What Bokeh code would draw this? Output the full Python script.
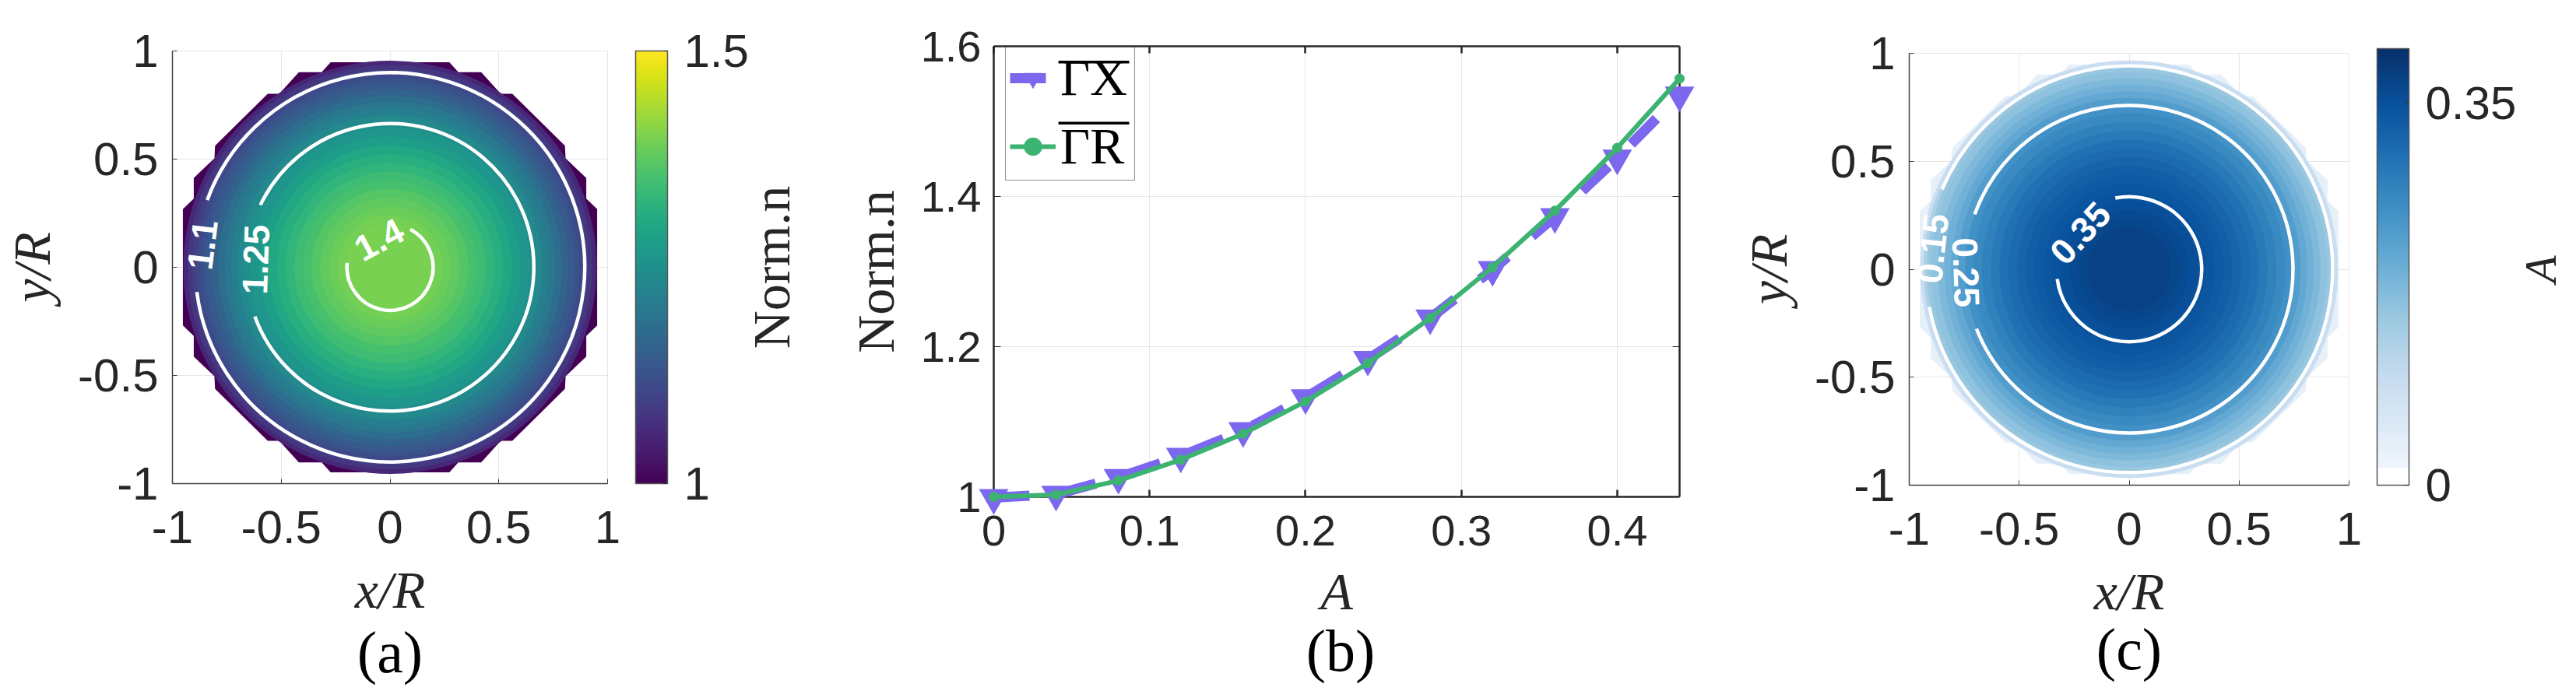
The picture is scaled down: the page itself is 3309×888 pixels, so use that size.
import numpy as np
from bokeh.core.properties import value
from bokeh.embed import file_html
from bokeh.layouts import column, row
from bokeh.models import (ColorBar, ColumnDataSource, FixedTicker, Label, Legend,
                          LegendItem, LinearAxis, LinearColorMapper)
from bokeh.palettes import Blues256, Viridis256
from bokeh.plotting import figure
from bokeh.resources import INLINE

# outline of the mesh, same in (a) and (c)
MESH_X = [-.273, .273, .314, .419, .509, .562, .804, .807, .902, .902, .952,
          .952, .902, .902, .807, .804, .562, .509, .419, .314, .273,
          -.273, -.314, -.419, -.509, -.562, -.804, -.807, -.902, -.902, -.952,
          -.952, -.902, -.902, -.807, -.804, -.562, -.509, -.419, -.314]
MESH_Y = [.948, .948, .902, .902, .802, .802, .562, .504, .413, .317, .269,
          -.269, -.317, -.413, -.504, -.562, -.802, -.802, -.902, -.902, -.948,
          -.948, -.902, -.902, -.802, -.802, -.562, -.504, -.413, -.317, -.269,
          .269, .317, .413, .504, .562, .802, .802, .902, .902]

# (a) bands
N_RADIUS = [.95, .93, .91, .89, .87, .85, .82, .79, .76, .73, .70, .67, .64, .60, .56, .52, .48, .44, .40, .36, .32, .28, .24, .20]
N_VALUE = [1.055, 1.08, 1.095, 1.11, 1.125, 1.14, 1.16, 1.18, 1.20, 1.215, 1.235, 1.25, 1.262, 1.28, 1.30, 1.315, 1.33, 1.345, 1.355, 1.368, 1.378, 1.388, 1.395, 1.40]
N_RIM = 1.0
N_LEVEL_R = [.895, .661, .198]
N_GAP_END = [187.3, 200.0, 174.0]    # arc starts here
N_GAP_START = [159.8, 154.3, 62.0]   # and runs round to here
N_LABELS = ["1.1", "1.25", "1.4"]
N_LABEL_X = [-.862, -.617, -.05]
N_LABEL_Y = [.104, .036, .128]
N_LABEL_ROT = [83, 88, 28]

# (b)
A_VALUES = [0, .04, .08, .12, .16, .20, .24, .28, .32, .36, .40, .44]
GAMMA_X = [.999, 1.0034, 1.0258, 1.054, 1.088, 1.132, 1.183, 1.238, 1.3025, 1.373, 1.451, 1.535]
GAMMA_R = [1.0, 1.0028, 1.0217, 1.0494, 1.084, 1.127, 1.178, 1.238, 1.3057, 1.381, 1.4647, 1.557]

# (c) bands
A_RADIUS = [.95, .935, .92, .90, .87, .84, .81, .78, .745, .71, .67, .63, .59, .55, .51, .47, .43, .39, .35, .31, .27, .23, .19]
A_FIELD = [.09, .13, .155, .165, .18, .195, .21, .23, .25, .262, .275, .288, .30, .31, .32, .328, .335, .342, .348, .354, .36, .366, .372]
A_RIM = .035
A_LEVEL_R = [.925, .745, .33]
A_GAP_END = [190.7, 201.3, 187.7]
A_GAP_START = [156.9, 160.4, 101.0]
A_LABELS = ["0.15", "0.25", "0.35"]
A_LABEL_X = [-.894, -.742, -.222]
A_LABEL_Y = [.096, -.015, .167]
A_LABEL_ROT = [84, -88, 47]

XY_TICKS = [-1, -.5, 0, .5, 1]
XY_TICK_LABELS = ["-1", "-0.5", "0", "0.5", "1"]
B_X_TICKS = [0, .1, .2, .3, .4]
B_X_LABELS = ["0", "0.1", "0.2", "0.3", "0.4"]
B_Y_TICKS = [1, 1.2, 1.4, 1.6]
B_Y_LABELS = ["1", "1.2", "1.4", "1.6"]

SANS = "Liberation Sans"
SERIF = "Liberation Serif"
DARK = "#262626"
BLUES = ["#ffffff"] * 10 + list(Blues256[::-1])[10:]
FIG_H = 884


def style_axes(p, size):
    for ax in p.axis:
        ax.major_label_text_font = SANS
        ax.major_label_text_font_size = size
        ax.major_label_text_color = DARK
        ax.axis_label_text_font = SERIF
        ax.axis_label_text_font_style = "italic"
        ax.axis_label_text_font_size = "68px"
        ax.axis_label_text_color = DARK
        ax.minor_tick_line_color = None
        ax.major_tick_in = 6
        ax.major_tick_out = 0
    p.grid.grid_line_color = "#e6e6e6"
    p.grid.grid_line_width = 1
    p.background_fill_color = "white"


def field_panel(width, left, frame_w, frame_h, top, mapper, rim, radius, field, level_r, gap_end, gap_start,
                labels, lab_x, lab_y, lab_rot, cb_ticks, cb_labels, caption, caption_y):
    p = figure(width=width, height=FIG_H, x_range=(-1, 1), y_range=(-1, 1), output_backend="svg", toolbar_location=None,
               min_border_left=left, min_border_top=top, min_border_right=width - left - frame_w,
               min_border_bottom=FIG_H - top - frame_h)
    p.xaxis.ticker = FixedTicker(ticks=XY_TICKS)
    p.yaxis.ticker = FixedTicker(ticks=XY_TICKS)
    p.xaxis.major_label_overrides = dict(zip(XY_TICKS, XY_TICK_LABELS))
    p.yaxis.major_label_overrides = dict(zip(XY_TICKS, XY_TICK_LABELS))
    p.xaxis.axis_label = "x/R"
    p.yaxis.axis_label = "y/R"
    style_axes(p, "60px")
    p.xaxis.major_label_standoff = 35
    p.yaxis.major_label_standoff = 18
    p.xaxis.axis_label_standoff = 19
    p.yaxis.axis_label_standoff = 18
    p.axis.axis_line_color = "#404040"
    p.axis.axis_line_width = 1.5
    p.axis.major_tick_line_color = "#404040"
    p.outline_line_color = "#e6e6e6"

    rim_src = ColumnDataSource(dict(x=[MESH_X], y=[MESH_Y], v=[rim]))
    p.patches("x", "y", source=rim_src, fill_color={"field": "v", "transform": mapper}, line_color=None)
    src = ColumnDataSource(dict(x=[0] * len(radius), y=[0] * len(radius), r=radius, v=field))
    p.circle("x", "y", radius="r", source=src, fill_color={"field": "v", "transform": mapper}, line_color=None)
    arcs = ColumnDataSource(dict(x=[0] * 3, y=[0] * 3, r=level_r, a0=np.deg2rad(gap_end), a1=np.deg2rad(gap_start)))
    p.arc("x", "y", radius="r", start_angle="a0", end_angle="a1", direction="anticlock", source=arcs, line_color="white", line_width=4.5)
    txt = ColumnDataSource(dict(x=lab_x, y=lab_y, t=labels, a=np.deg2rad(lab_rot)))
    p.text("x", "y", text="t", angle="a", source=txt, text_color="white", text_font=value(SANS), text_font_style="bold",
           text_font_size="46px", text_align="center", text_baseline="middle")

    cb = ColorBar(color_mapper=mapper, ticker=FixedTicker(ticks=cb_ticks), major_label_overrides=dict(zip(cb_ticks, cb_labels)),
                  width=41, height=frame_h, location=(36, 0), padding=0, margin=0, label_standoff=21,
                  major_label_text_font=SANS, major_label_text_font_size="60px", major_label_text_color=DARK,
                  bar_line_color="#555555", bar_line_width=1.5, major_tick_line_color="#333333",
                  major_tick_in=6, minor_tick_line_color=None)
    p.add_layout(cb, "right")
    p.add_layout(Label(x=0, y=caption_y, text=caption, text_font=SERIF, text_font_size="76px", text_color="black",
                       text_align="center", text_baseline="middle"), "below")
    return p


n_mapper = LinearColorMapper(palette=Viridis256, low=1, high=1.5)
fig_a = field_panel(1060, 221, 559, 556, 65, n_mapper, N_RIM, N_RADIUS, N_VALUE, N_LEVEL_R, N_GAP_END, N_GAP_START,
                    N_LABELS, N_LABEL_X, N_LABEL_Y, N_LABEL_ROT, [1, 1.5], ["1", "1.5"], "(a)", -1.78)
fig_a.add_layout(Label(x=1.753, y=0, text="Norm.n", angle=np.pi / 2, text_font=SERIF, text_font_size="68px", text_color=DARK,
                       text_align="center", text_baseline="middle"), "right")

# (b)
fig_b = figure(width=1140, height=FIG_H, x_range=(0, .44), y_range=(1, 1.6), output_backend="svg", toolbar_location=None,
               min_border_left=216, min_border_top=59, min_border_right=43, min_border_bottom=FIG_H - 59 - 581)
fig_b.add_layout(LinearAxis(), "above")
fig_b.add_layout(LinearAxis(), "right")
for ax in fig_b.xaxis:
    ax.ticker = FixedTicker(ticks=B_X_TICKS)
    ax.major_label_overrides = dict(zip(B_X_TICKS, B_X_LABELS))
for ax in fig_b.yaxis:
    ax.ticker = FixedTicker(ticks=B_Y_TICKS)
    ax.major_label_overrides = dict(zip(B_Y_TICKS, B_Y_LABELS))
fig_b.below[0].axis_label = "A"
fig_b.left[0].axis_label = "Norm.n"
style_axes(fig_b, "56px")
for ax in fig_b.above + fig_b.right:
    ax.major_label_text_color = None
    ax.major_label_text_font_size = "1px"
    ax.major_label_standoff = 0
fig_b.axis.axis_line_color = DARK
fig_b.axis.axis_line_width = 2.5
fig_b.axis.major_tick_line_color = DARK
fig_b.axis.major_tick_in = 9
for ax in fig_b.xaxis:
    ax.major_tick_line_width = 2.5
fig_b.below[0].major_label_standoff = 24
fig_b.below[0].axis_label_standoff = 18
fig_b.left[0].major_label_standoff = 16
fig_b.left[0].axis_label_standoff = 17
fig_b.left[0].axis_label_text_font_style = "normal"
fig_b.outline_line_color = None

line_x = fig_b.line(A_VALUES, GAMMA_X, line_color="#7b68ee", line_width=13, line_dash=[46, 41], level="overlay")
mark_x = fig_b.scatter(A_VALUES, GAMMA_X, marker="inverted_triangle", size=38, fill_color="#7b68ee", line_color=None, level="overlay")
line_r = fig_b.line(A_VALUES, GAMMA_R, line_color="#3cb371", line_width=6, level="overlay")
mark_r = fig_b.scatter(A_VALUES, GAMMA_R, marker="circle", size=13, fill_color="#3cb371", line_color=None, level="overlay")
legend = Legend(items=[LegendItem(label="ΓX", renderers=[line_x, mark_x]), LegendItem(label="ΓR", renderers=[line_r, mark_r])],
                location=(15, 406), orientation="vertical", border_line_color=DARK, border_line_width=1.5, background_fill_alpha=0,
                label_text_font=SERIF, label_text_font_size="66px", label_text_color="black",
                glyph_width=59, glyph_height=70, label_height=70, label_width=90, spacing=12, padding=5, margin=0, label_standoff=6)
fig_b.add_layout(legend)
# bars over the legend labels
fig_b.segment([.0415, .0415], [1.579, 1.4977], [.0869, .0869], [1.579, 1.4977], line_color="black", line_width=3.5, level="overlay")
fig_b.add_layout(Label(x=.2225, y=.795, text="(b)", text_font=SERIF, text_font_size="76px", text_color="black",
                       text_align="center", text_baseline="middle"), "below")

# (c)
a_mapper = LinearColorMapper(palette=BLUES, low=0, high=.4)
fig_c = field_panel(1109, 252, 565, 561, 68, a_mapper, A_RIM, A_RADIUS, A_FIELD, A_LEVEL_R, A_GAP_END, A_GAP_START,
                    A_LABELS, A_LABEL_X, A_LABEL_Y, A_LABEL_ROT, [0, .35], ["0", "0.35"], "(c)", -1.76)
fig_c.add_layout(Label(x=1.87, y=0, text="A", angle=np.pi / 2, text_font=SERIF, text_font_style="italic", text_font_size="58px",
                       text_color=DARK, text_align="center", text_baseline="middle"), "right")

p = row(column(fig_a), column(fig_b), column(fig_c))
open("out.html", "w").write(file_html(p, INLINE))
